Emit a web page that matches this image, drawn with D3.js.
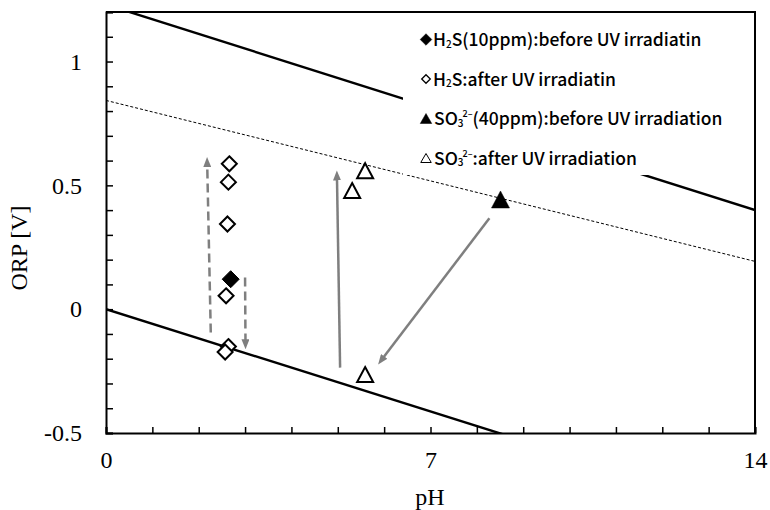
<!DOCTYPE html>
<html><head><meta charset="utf-8">
<script src="https://cdn.jsdelivr.net/npm/d3@7"></script>
<style>
body{margin:0;background:#fff;}
svg{display:block;}
</style></head>
<body>
<svg id="c" width="770" height="510"></svg>
<script>
// ---- data ----
const xTickValues = [0,7,14];
const yTickValues = [-0.5,0,0.5,1];
const h2sBefore = [[2.69,0.121]];
const h2sAfter = [[2.66,0.587],[2.64,0.513],[2.62,0.344],[2.59,0.054],[2.64,-0.151],[2.57,-0.173]];
const so3Before = [[8.51,0.443]];
const so3After = [[5.59,0.559],[5.31,0.479],[5.59,-0.264]];
const lineUpper = [[0,1.23],[14,0.40]];
const lineDashed = [[0,0.843],[14,0.193]];
const lineLower = [[0,0],[14,-0.826]];
const arrowsDashed = [[[2.26,-0.094],[2.18,0.614]],[[3.0,0.128],[3.01,-0.162]]];
const arrowsSolid = [[[5.05,-0.236],[4.98,0.56]],[[8.27,0.367],[5.87,-0.223]]];
const legendItems = ["h2sBefore","h2sAfter","so3Before","so3After"];

const svg = d3.select("#c");
const x = d3.scaleLinear().domain([0,14]).range([106,755]);
const y = d3.scaleLinear().domain([-0.5,1.2]).range([433,12]);

svg.append("defs").append("clipPath").attr("id","clip")
  .append("rect").attr("x",106).attr("y",12).attr("width",649).attr("height",421);

const fmt = d => String(d);
const sf = "'Liberation Serif','Times New Roman',serif";

// minor ticks y (every 0.1), x (every 1)
const yMinor = d3.range(-5,13).map(i=>i/10);
const xMinor = d3.range(0,15);

const gy = svg.append("g").attr("transform","translate(106,0)")
  .call(d3.axisLeft(y).tickValues(yMinor).tickSize(-7).tickPadding(24)
    .tickFormat(d => yTickValues.some(v=>Math.abs(v-d)<1e-9) ? fmt(Math.round(d*10)/10) : ""));
const gx = svg.append("g").attr("transform","translate(0,433)")
  .call(d3.axisBottom(x).tickValues(xMinor).tickSize(-6).tickPadding(18)
    .tickFormat(d => xTickValues.includes(d) ? fmt(d) : ""));
[gx,gy].forEach(g=>{
  g.attr("font-family",sf).attr("font-size",24);
  g.selectAll("path.domain").attr("stroke","#000").attr("stroke-width",2);
  g.selectAll("line").attr("stroke","#000").attr("stroke-width",1.5);
  g.selectAll("text").attr("fill","#000");
});
// frame top/right
svg.append("path").attr("d",`M${x(0)},${y(1.2)}H${x(14)}V${y(-0.5)}`)
  .attr("fill","none").attr("stroke","#000").attr("stroke-width",2);

const line = d3.line().x(d=>x(d[0])).y(d=>y(d[1]));
const gl = svg.append("g").attr("clip-path","url(#clip)");
gl.append("path").attr("d",line(lineUpper)).attr("fill","none").attr("stroke","#000").attr("stroke-width",2.4);
gl.append("path").attr("d",line(lineLower)).attr("fill","none").attr("stroke","#000").attr("stroke-width",2.4);
gl.append("path").attr("d",line(lineDashed)).attr("fill","none").attr("stroke","#000").attr("stroke-width",1).attr("stroke-dasharray","3,2");

// legend background (white box hiding the line)
const legend = svg.append("g");
legend.append("rect").attr("x",403).attr("y",22).attr("width",349).attr("height",153).attr("fill","#fff");

// arrows
const defs = svg.select("defs");
defs.append("marker").attr("id","ah").attr("markerUnits","userSpaceOnUse")
  .attr("viewBox","0 0 10 8").attr("markerWidth",10).attr("markerHeight",8)
  .attr("refX",2).attr("refY",4).attr("orient","auto")
  .append("path").attr("d","M0,0L10,4L0,8Z").attr("fill","#7f7f7f");
function arrowPath(a){
  const x1=x(a[0][0]), y1=y(a[0][1]), x2=x(a[1][0]), y2=y(a[1][1]);
  const L=Math.hypot(x2-x1,y2-y1), s=(L-8)/L;
  return `M${x1},${y1}L${x1+(x2-x1)*s},${y1+(y2-y1)*s}`;
}
svg.append("g").selectAll("path").data(arrowsDashed).join("path")
  .attr("d",arrowPath).attr("fill","none").attr("stroke","#7f7f7f").attr("stroke-width",2.5)
  .attr("stroke-dasharray","9,5").attr("marker-end","url(#ah)");
svg.append("g").selectAll("path").data(arrowsSolid).join("path")
  .attr("d",arrowPath).attr("fill","none").attr("stroke","#7f7f7f").attr("stroke-width",2.5)
  .attr("marker-end","url(#ah)");

// symbols
const diamondPath = r => `M0,${-r}L${r},0L0,${r}L${-r},0Z`;
const triPath = (w,h) => `M0,${-h/2}L${w/2},${h/2}L${-w/2},${h/2}Z`;
const styles = {
  h2sBefore:{d:diamondPath(8.5), fill:"#000", sw:1, ld:diamondPath(5.8), lsw:0.5},
  h2sAfter:{d:diamondPath(7.5), fill:"#fff", sw:2, ld:diamondPath(4.3), lsw:1.3},
  so3Before:{d:triPath(18,17), fill:"#000", sw:0.5, ld:triPath(11.5,10), lsw:0.5},
  so3After:{d:triPath(16,15), fill:"#fff", sw:2, ld:triPath(10.5,9), lsw:1}
};
const series = {h2sBefore, h2sAfter, so3Before, so3After};
["h2sAfter","h2sBefore","so3After","so3Before"].forEach(k=>{
  svg.append("g").selectAll("path").data(series[k]).join("path")
    .attr("transform",d=>`translate(${x(d[0])},${y(d[1])})`)
    .attr("d",styles[k].d).attr("fill",styles[k].fill).attr("stroke","#000").attr("stroke-width",styles[k].sw)
    .attr("stroke-linejoin","miter");
});

// legend entries
const lf = "'Noto Sans CJK JP','Noto Sans',sans-serif";
legendItems.forEach((k,i)=>{
  const cy = 39.5 + i*39.5;
  const base = cy + 6.5;
  legend.append("path").attr("transform",`translate(426,${cy})`).attr("d",styles[k].ld)
    .attr("fill",styles[k].fill).attr("stroke","#000").attr("stroke-width",styles[k].lsw);
  const t = legend.append("text").attr("x",k.startsWith("so3")?434:433).attr("y",base)
    .attr("font-family",lf).attr("font-size",17.5).attr("font-weight",500).attr("fill","#000");
  if(k.startsWith("h2s")){
    t.append("tspan").text("H");
    t.append("tspan").text("2").attr("font-size",10).attr("y",base+1.5);
    t.append("tspan").text(k==="h2sBefore"?"S(10ppm):before UV irradiatin":"S:after UV irradiatin").attr("y",base);
  } else {
    t.append("tspan").text("SO");
    t.append("tspan").text("3").attr("font-size",10).attr("y",base+1.5);
    t.append("tspan").text("2\u2013").attr("font-size",9).attr("y",base-8).attr("dx",-1);
    t.append("tspan").text(k==="so3Before"?"(40ppm):before UV irradiation":":after UV irradiation").attr("y",base);
  }
});

// axis titles
svg.append("text").attr("x",430).attr("y",505).attr("text-anchor","middle")
  .attr("font-family",sf).attr("font-size",24).text("pH");
svg.append("text").attr("transform","translate(27,248) rotate(-90)").attr("text-anchor","middle")
  .attr("font-family",sf).attr("font-size",24).text("ORP [V]");
</script>
</body></html>
